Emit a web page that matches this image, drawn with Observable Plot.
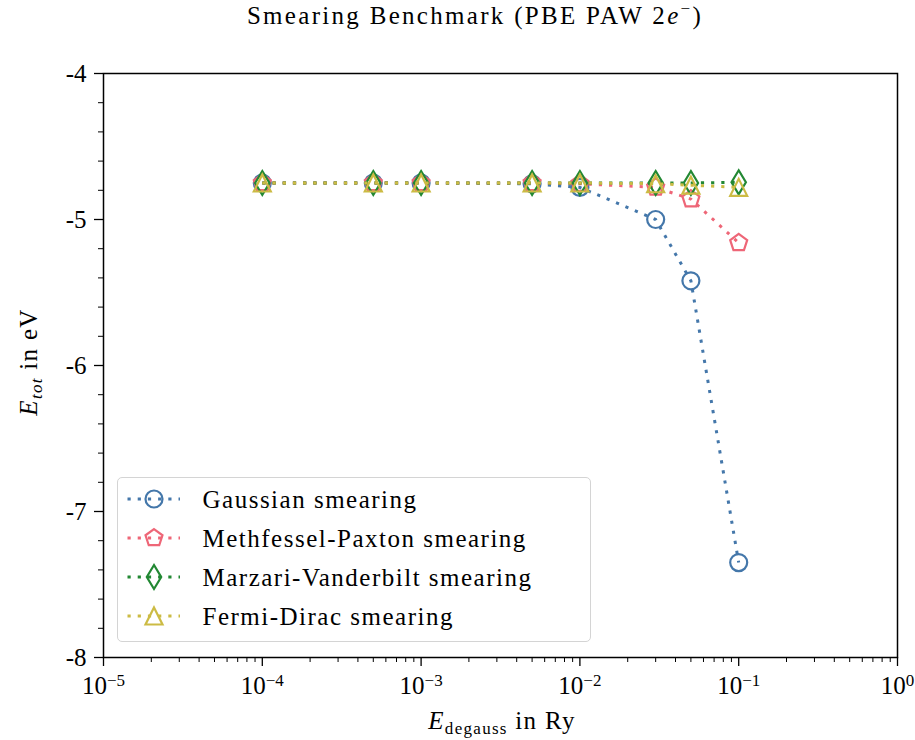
<!DOCTYPE html>
<html>
<head>
<meta charset="utf-8">
<script src="https://cdn.jsdelivr.net/npm/d3@7"></script>
<script src="https://cdn.jsdelivr.net/npm/@observablehq/plot@0.6"></script>
<style>
  body { margin: 0; background: #fff; }
  #wrap { position: relative; width: 915px; height: 740px; font-family: "Liberation Serif", "DejaVu Serif", serif; color: #000; }
  #title { height: 36px; }
  #title svg, #chart svg { display: block; }
  #legend { position: absolute; left: 117px; top: 477px; width: 472px; height: 163px;
            border: 1.5px solid #d4d4d4; border-radius: 5px; background: rgba(255,255,255,0.8); }
</style>
</head>
<body>
<div id="wrap">
  <div id="title"></div>
  <div id="chart"></div>
  <div id="legend"></div>
</div>
<script>
// Smearing width (Ry) and total energy (eV) for each smearing scheme
const degauss = [1e-4, 5e-4, 1e-3, 5e-3, 1e-2, 3e-2, 5e-2, 1e-1];
const gaussian = [-4.75, -4.75, -4.75, -4.755, -4.78, -5.00, -5.42, -7.35];
const methfesselPaxton = [-4.75, -4.75, -4.75, -4.75, -4.755, -4.78, -4.86, -5.16];
const marzariVanderbilt = [-4.75, -4.75, -4.75, -4.75, -4.75, -4.75, -4.75, -4.745];
const fermiDirac = [-4.75, -4.75, -4.75, -4.75, -4.75, -4.755, -4.765, -4.78];

const seriesNames = ["Gaussian smearing", "Methfessel-Paxton smearing", "Marzari-Vanderbilt smearing", "Fermi-Dirac smearing"];
const seriesColors = ["#4477AA", "#EE6677", "#228833", "#CCBB44"];
const seriesValues = [gaussian, methfesselPaxton, marzariVanderbilt, fermiDirac];

const xMajorTicks = [1e-5, 1e-4, 1e-3, 1e-2, 1e-1, 1];
const yMajorTicks = [-8, -7, -6, -5, -4];

const SERIF = "'Liberation Serif', 'DejaVu Serif', serif";

// Marker shapes (open): circle, pentagon, thin diamond, upward triangle
const rad = size => Math.sqrt(size / Math.PI);
const symCircle = { draw(ctx, size) { const r = rad(size); ctx.moveTo(r, 0); ctx.arc(0, 0, r, 0, 2 * Math.PI); } };
const symPentagon = { draw(ctx, size) {
  const r = rad(size) * 1.05;
  for (let k = 0; k < 5; ++k) {
    const a = -Math.PI / 2 + k * 2 * Math.PI / 5;
    const px = r * Math.cos(a), py = r * Math.sin(a);
    k ? ctx.lineTo(px, py) : ctx.moveTo(px, py);
  }
  ctx.closePath();
} };
const symThinDiamond = { draw(ctx, size) {
  const h = rad(size) * 1.41, w = h * 0.6;
  ctx.moveTo(0, -h); ctx.lineTo(w, 0); ctx.lineTo(0, h); ctx.lineTo(-w, 0); ctx.closePath();
} };
const symTriangle = { draw(ctx, size) {
  const r = rad(size);
  ctx.moveTo(0, -r); ctx.lineTo(r, r); ctx.lineTo(-r, r); ctx.closePath();
} };
const seriesSymbols = [symCircle, symPentagon, symThinDiamond, symTriangle];

const rows = [];
seriesNames.forEach((name, i) => degauss.forEach((x, j) => rows.push({ series: name, x, y: seriesValues[i][j] })));

const xMinorTicks = [];
for (let e = -5; e < 0; ++e) for (let m = 2; m <= 9; ++m) xMinorTicks.push(m * Math.pow(10, e));
const yMinorTicks = [];
for (let v = -80; v <= -40; v += 2) if (v % 10 !== 0) yMinorTicks.push(v / 10);

const MARKER_R = 8.5;
const DASH = "3.2,7";
const seriesMarks = [];
seriesNames.forEach((name, i) => {
  const data = rows.filter(d => d.series === name);
  seriesMarks.push(Plot.line(data, { x: "x", y: "y", stroke: seriesColors[i], strokeWidth: 3,
    strokeDasharray: DASH, strokeLinecap: "butt" }));
  seriesMarks.push(Plot.dot(data, { x: "x", y: "y", symbol: seriesSymbols[i], r: MARKER_R,
    stroke: seriesColors[i], strokeWidth: 2.2, fill: "none" }));
});

const chart = Plot.plot({
  width: 915,
  height: 704,
  marginTop: 37,
  marginBottom: 83,
  marginLeft: 103,
  marginRight: 18,
  style: { fontFamily: SERIF, fontSize: "25px", background: "white", color: "black" },
  x: { type: "log", domain: [1e-5, 1] },
  y: { domain: [-8, -4] },
  marks: [
    Plot.axisX(xMinorTicks, { tickSize: 5, strokeWidth: 1, tickFormat: () => "", label: null }),
    Plot.axisX(xMajorTicks, { tickSize: 9, strokeWidth: 1.3, tickPadding: 10, fontSize: 25,
      tickFormat: d => String(Math.round(Math.log10(d))), label: null }),
    Plot.axisY(yMinorTicks, { tickSize: 5, strokeWidth: 1, tickFormat: () => "", label: null }),
    Plot.axisY(yMajorTicks, { tickSize: 9, strokeWidth: 1.3, tickPadding: 8, fontSize: 25,
      tickFormat: d => String(d), label: null }),
    ...seriesMarks,
    Plot.frame({ stroke: "black", strokeWidth: 1.5 })
  ]
});
document.getElementById("chart").appendChild(chart);

// Power-of-ten tick labels: 10 with a raised exponent
d3.select(chart).selectAll('g[aria-label="x-axis tick label"] text').each(function () {
  const t = d3.select(this);
  const raw = t.text();
  if (!raw) return;
  t.text("");
  t.append("tspan").text("10");
  t.append("tspan").attr("dy", "-0.5em").attr("font-size", "17px").text(raw.replace("-", "\u2212"));
});

// Axis titles
const sel = d3.select(chart);
const xl = sel.append("text").attr("x", 502).attr("y", 693).attr("text-anchor", "middle")
  .attr("font-size", 25).attr("font-family", SERIF).attr("letter-spacing", "1.3px").attr("fill", "black");
xl.append("tspan").attr("font-style", "italic").text("E");
xl.append("tspan").attr("font-size", 17).attr("dy", 5).text("degauss");
xl.append("tspan").attr("dy", -5).text(" in Ry");

const yl = sel.append("text").attr("transform", "translate(37,326) rotate(-90)").attr("text-anchor", "middle")
  .attr("font-size", 25).attr("font-family", SERIF).attr("letter-spacing", "1.3px").attr("fill", "black");
yl.append("tspan").attr("font-style", "italic").text("E");
yl.append("tspan").attr("font-size", 17).attr("font-style", "italic").attr("dy", 5).text("tot");
yl.append("tspan").attr("dy", -5).text(" in eV");

// Title
const ts = d3.select("#title").append("svg").attr("width", 915).attr("height", 36);
const tt = ts.append("text").attr("x", 475).attr("y", 24).attr("text-anchor", "middle")
  .attr("font-size", 25).attr("fill", "black").attr("font-family", SERIF).attr("letter-spacing", "2.3px");
tt.append("tspan").text("Smearing Benchmark (PBE PAW 2");
tt.append("tspan").attr("font-style", "italic").text("e");
tt.append("tspan").attr("dy", -10).attr("font-size", 17).text("\u2212");
tt.append("tspan").attr("dy", 10).text(")");

// Legend
const lg = d3.select("#legend").append("svg").attr("width", 472).attr("height", 163);
seriesNames.forEach((name, i) => {
  const cy = 21 + i * 39;
  lg.append("line").attr("x1", 9.5).attr("x2", 62).attr("y1", cy).attr("y2", cy)
    .attr("stroke", seriesColors[i]).attr("stroke-width", 3).attr("stroke-dasharray", DASH);
  const p = d3.path();
  seriesSymbols[i].draw(p, MARKER_R * MARKER_R * Math.PI);
  lg.append("path").attr("d", p.toString()).attr("transform", `translate(36,${cy})`)
    .attr("fill", "none").attr("stroke", seriesColors[i]).attr("stroke-width", 2.2);
  lg.append("text").attr("x", 84.5).attr("y", cy + 9).attr("font-size", 25)
    .attr("font-family", SERIF).attr("letter-spacing", "1.5px").attr("fill", "black").text(name);
});
</script>
</body>
</html>
